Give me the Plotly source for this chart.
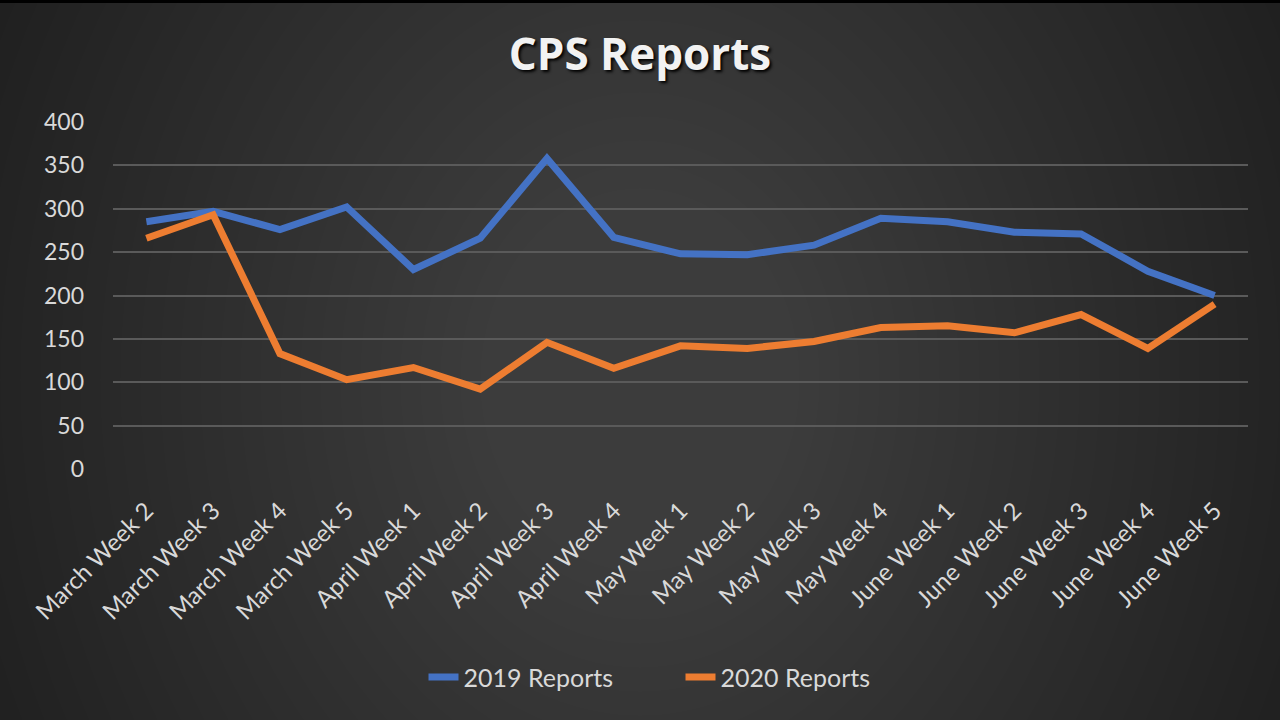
import plotly.graph_objects as go

# weekly CPS report counts
weeks = [
    "March Week 2", "March Week 3", "March Week 4", "March Week 5",
    "April Week 1", "April Week 2", "April Week 3", "April Week 4",
    "May Week 1", "May Week 2", "May Week 3", "May Week 4",
    "June Week 1", "June Week 2", "June Week 3", "June Week 4", "June Week 5",
]
reports_2019 = [285, 297, 276, 302, 230, 266, 358, 267, 248, 247, 258, 289, 285, 273, 271, 228, 200]
reports_2020 = [266, 293, 133, 103, 117, 92, 146, 116, 142, 139, 147, 163, 165, 157, 178, 139, 190]
y_ticks = [0, 50, 100, 150, 200, 250, 300, 350, 400]

BLUE = "#4472C4"
ORANGE = "#ED7D31"
TEXT = "#D9D9D9"
FONT = "Lato, 'Open Sans', sans-serif"

W, H = 1280, 720
L, R, T, B = 113, 32, 122, 251
PW, PH = W - L - R, H - T - B


def px_to_paper(x, y):
    # page pixels -> paper coords of the plot area
    return (x - L) / PW, (H - B - y) / PH


# dark slide background with a soft lighter centre (stacked translucent ellipses)
shapes = []
cx, cy = W / 2, H / 2 + 20
for i in range(30):
    rx = 740 - 20 * i
    ry = rx * 1.2
    x0, y1 = px_to_paper(cx - rx, cy - ry)
    x1, y0 = px_to_paper(cx + rx, cy + ry)
    shapes.append(dict(
        type="circle", xref="paper", yref="paper", layer="below",
        x0=x0, x1=x1, y0=y0, y1=y1,
        fillcolor="rgba(255,255,255,0.007)", line=dict(width=0),
    ))
# thin black band along the top edge
tx0, ty1 = px_to_paper(0, 0)
tx1, ty0 = px_to_paper(W, 3)
shapes.append(dict(
    type="rect", xref="paper", yref="paper", layer="below",
    x0=tx0, x1=tx1, y0=ty0, y1=ty1 + 0.05, fillcolor="#000", line=dict(width=0),
))

fig = go.Figure()
fig.add_trace(go.Scatter(
    x=weeks, y=reports_2019, mode="lines", name="2019 Reports",
    line=dict(color=BLUE, width=7),
))
fig.add_trace(go.Scatter(
    x=weeks, y=reports_2020, mode="lines", name="2020 Reports",
    line=dict(color=ORANGE, width=7),
))

fig.update_layout(
    width=W, height=H,
    paper_bgcolor="#1e1e1e",
    plot_bgcolor="rgba(0,0,0,0)",
    margin=dict(l=L, r=R, t=T, b=B),
    shapes=shapes,
    title=dict(
        text="<b>CPS Reports</b>",
        x=0.5, xanchor="center", y=0.924, yanchor="middle",
        font=dict(family="'Open Sans', sans-serif", size=44, color="#F2F2F2",
                  shadow="2px 2px 3px #000"),
    ),
    font=dict(family=FONT, color=TEXT),
    showlegend=True,
    legend=dict(
        orientation="h", x=0.5, xanchor="center", y=-0.6, yanchor="middle",
        font=dict(size=25, color=TEXT), bgcolor="rgba(0,0,0,0)",
        entrywidth=212, entrywidthmode="pixels",
    ),
)
fig.update_xaxes(
    type="category", range=[-0.5, len(weeks) - 0.5],
    tickangle=-45, tickfont=dict(size=24, color=TEXT),
    showgrid=False, showline=False, zeroline=False, ticks="",
    ticklabelstandoff=22, automargin=False,
)
fig.update_yaxes(
    range=[0, 400], tickvals=y_ticks, tickfont=dict(size=23, color=TEXT),
    showgrid=True, gridcolor="#5A5A5A", gridwidth=2,
    zeroline=False, showline=False, ticks="", ticklabelstandoff=28,
    automargin=False,
)

fig.write_html(
    "out.html",
    config={"displayModeBar": False},
    post_script="document.body.style.margin='0';",
)
